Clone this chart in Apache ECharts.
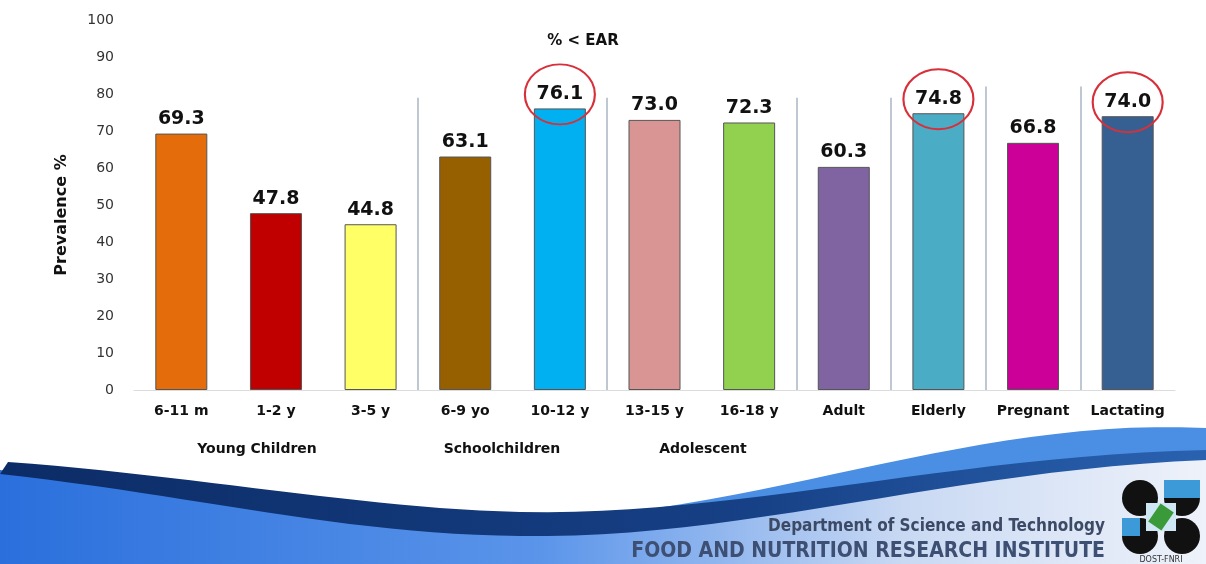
<!DOCTYPE html>
<html>
<head>
<meta charset="utf-8">
<script src="https://cdn.jsdelivr.net/npm/echarts@6/dist/echarts.min.js"></script>
<style>
  html, body { margin: 0; padding: 0; background: #fff; }
  #chart { width: 1206px; height: 564px; }
</style>
</head>
<body>
<div id="chart"></div>
<script>
const categories = ['6-11 m', '1-2 y', '3-5 y', '6-9 yo', '10-12 y', '13-15 y', '16-18 y', 'Adult', 'Elderly', 'Pregnant', 'Lactating'];
const values = [69.3, 47.8, 44.8, 63.1, 76.1, 73.0, 72.3, 60.3, 74.8, 66.8, 74.0];
const barColors = ['#E46C0A', '#C00000', '#FFFF66', '#966000', '#00B0F0', '#D99594', '#92D050', '#8064A2', '#4BACC6', '#CC0099', '#376092'];
const circled = ['10-12 y', 'Elderly', 'Lactating'];
const separatorAt = [2.5, 4.5, 6.5, 7.5, 8.5, 9.5];
const separatorTop = [79, 79, 79, 79, 82, 82];
const groupLabels = ['Young Children', 'Schoolchildren', 'Adolescent'];

const FONT = '"DejaVu Sans", Verdana, sans-serif';
const NARROW = '"Liberation Sans Narrow", "DejaVu Sans Condensed", sans-serif';

const chart = echarts.init(document.getElementById('chart'));

const groupX = [257, 502, 703];

// decoration: sample a chain of cubic curves into polygon points
function curve(start, segs) {
    const pts = [start];
    let p0 = start;
    segs.forEach(([c1, c2, p1]) => {
        for (let k = 1; k <= 24; k++) {
            const t = k / 24, u = 1 - t;
            pts.push([
                u * u * u * p0[0] + 3 * u * u * t * c1[0] + 3 * u * t * t * c2[0] + t * t * t * p1[0],
                u * u * u * p0[1] + 3 * u * u * t * c1[1] + 3 * u * t * t * c2[1] + t * t * t * p1[1]
            ]);
        }
        p0 = p1;
    });
    return pts;
}

const baseFill = curve([0, 470], [[[200, 492], [400, 548], [620, 530]], [[850, 510], [1000, 452], [1206, 452]]])
    .concat([[1206, 564], [0, 564]]);
const lightBand = curve([600, 516], [[[820, 490], [1000, 418], [1206, 428]]])
    .concat([[1206, 452]], curve([1206, 452], [[[1000, 452], [830, 508], [620, 530]]]).slice(1));
const navyBand = curve([8, 462], [[[200, 476], [360, 508], [520, 512]], [[740, 516], [950, 456], [1206, 450]]])
    .concat(curve([1206, 460], [[[950, 470], [740, 540], [520, 536]], [[340, 534], [200, 496], [0, 474]]]));

const option = {
    backgroundColor: '#fff',
    animation: false,
    title: {
        text: '% < EAR',
        left: 578,
        top: 29,
        textAlign: 'center',
        textStyle: { fontFamily: FONT, fontSize: 15, fontWeight: 'bold', color: '#111' }
    },
    grid: { left: 134, right: 31, top: 20, bottom: 174 },
    xAxis: [
        {
            type: 'category',
            data: categories,
            axisLine: { lineStyle: { color: '#dcdcdc' } },
            axisTick: { show: false },
            axisLabel: { interval: 0, margin: 14, fontFamily: FONT, fontSize: 14, fontWeight: 'bold', color: '#111' }
        },
        { type: 'value', min: -0.5, max: 10.5, show: false }
    ],
    yAxis: {
        type: 'value',
        min: 0, max: 100, interval: 10,
        name: 'Prevalence %',
        nameLocation: 'middle',
        nameGap: 64,
        nameTextStyle: { fontFamily: FONT, fontSize: 16, fontWeight: 'bold', color: '#111', padding: [0, 0, 0, -20] },
        axisLine: { show: false },
        axisTick: { show: false },
        splitLine: { show: false },
        axisLabel: { margin: 20, fontFamily: FONT, fontSize: 14, color: '#333' }
    },
    series: [
        {
            type: 'bar',
            barWidth: 52,
            data: values.map((v, i) => ({ value: v, itemStyle: { color: barColors[i] } })),
            itemStyle: { borderColor: '#555', borderWidth: 1 },
            label: {
                show: true, position: 'top', distance: 5,
                fontFamily: FONT, fontSize: 19, fontWeight: 'bold', color: '#111',
                formatter: p => p.value.toFixed(1)
            },
            markPoint: {
                silent: true,
                symbol: 'circle',
                symbolSize: [70, 60],
                symbolOffset: [0, -14],
                itemStyle: { color: 'rgba(0,0,0,0)', borderColor: '#d8303a', borderWidth: 2 },
                label: { show: false },
                data: circled.map(c => ({ coord: [c, values[categories.indexOf(c)]] }))
            }
        },
        {
            type: 'line',
            xAxisIndex: 1,
            data: [],
            markLine: {
                silent: true,
                symbol: 'none',
                label: { show: false },
                lineStyle: { color: '#aab5c5', width: 1.5, type: 'solid' },
                data: separatorAt.map((x, i) => [{ coord: [x, 0] }, { coord: [x, separatorTop[i]] }])
            }
        }
    ],
    graphic: [
        ...groupLabels.map((t, i) => ({
            type: 'text', x: groupX[i], y: 449, silent: true,
            style: { text: t, fontFamily: FONT, fontSize: 14, fontWeight: 'bold', fill: '#111', align: 'center', verticalAlign: 'middle' }
        })),
        {
            type: 'polygon', silent: true,
            shape: { points: baseFill },
            style: {
                fill: new echarts.graphic.LinearGradient(0, 0, 1, 0, [
                    { offset: 0, color: '#2a6fdc' },
                    { offset: 0.45, color: '#5b95ea' },
                    { offset: 0.75, color: '#c9d9f3' },
                    { offset: 1, color: '#eef2fa' }
                ])
            }
        },
        { type: 'polygon', silent: true, shape: { points: lightBand }, style: { fill: '#4a8fe3' } },
        {
            type: 'polygon', silent: true,
            shape: { points: navyBand },
            style: {
                fill: new echarts.graphic.LinearGradient(0, 0, 1, 0, [
                    { offset: 0, color: '#0c2c66' },
                    { offset: 0.6, color: '#163f84' },
                    { offset: 1, color: '#2a62b0' }
                ])
            }
        },
        {
            type: 'text', x: 1105, y: 527, silent: true,
            style: { text: 'Department of Science and Technology', fontFamily: NARROW, fontSize: 17, fontWeight: 'bold', fill: '#3d4a66', align: 'right', verticalAlign: 'middle' }
        },
        {
            type: 'text', x: 1105, y: 552, silent: true,
            style: { text: 'FOOD AND NUTRITION RESEARCH INSTITUTE', fontFamily: NARROW, fontSize: 21, fontWeight: 'bold', fill: '#3d4f72', align: 'right', verticalAlign: 'middle' }
        },
        // logo
        { type: 'circle', silent: true, shape: { cx: 1140, cy: 498, r: 18 }, style: { fill: '#111' } },
        { type: 'circle', silent: true, shape: { cx: 1182, cy: 498, r: 18 }, style: { fill: '#111' } },
        { type: 'circle', silent: true, shape: { cx: 1140, cy: 536, r: 18 }, style: { fill: '#111' } },
        { type: 'circle', silent: true, shape: { cx: 1182, cy: 536, r: 18 }, style: { fill: '#111' } },
        { type: 'rect', silent: true, shape: { x: 1164, y: 480, width: 36, height: 18 }, style: { fill: '#3d9ad8' } },
        { type: 'rect', silent: true, shape: { x: 1122, y: 518, width: 18, height: 18 }, style: { fill: '#3d9ad8' } },
        { type: 'rect', silent: true, shape: { x: 1146, y: 503, width: 30, height: 28 }, style: { fill: '#cfe7f5' } },
        { type: 'rect', silent: true, shape: { x: 1153, y: 506, width: 16, height: 22 }, rotation: -0.6, originX: 1161, originY: 517, style: { fill: '#3a9a3a' } },
        {
            type: 'text', x: 1161, y: 560, silent: true,
            style: { text: 'DOST-FNRI', fontFamily: FONT, fontSize: 8, fill: '#333', align: 'center', verticalAlign: 'middle' }
        }
    ]
};

chart.setOption(option);
window.addEventListener('resize', () => chart.resize());
</script>
</body>
</html>
